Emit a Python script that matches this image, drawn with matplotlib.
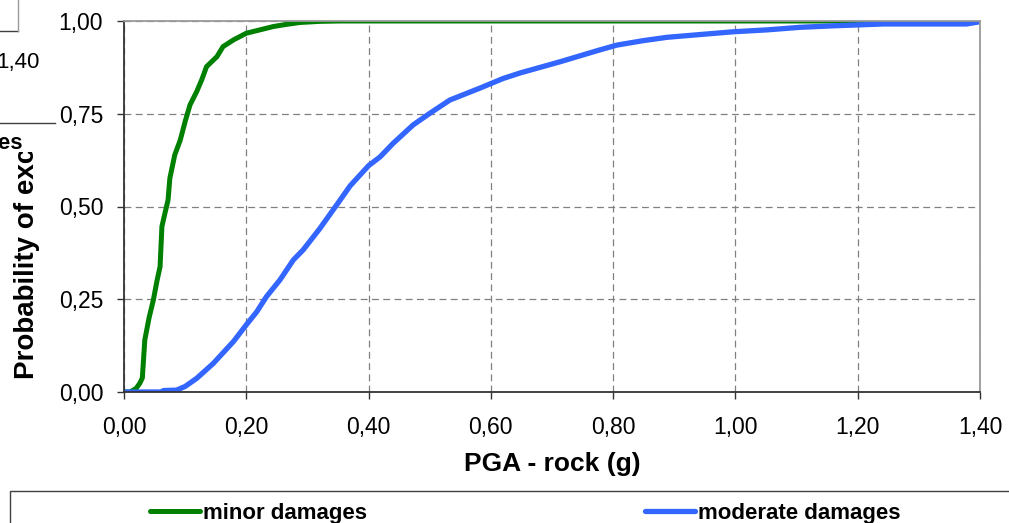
import matplotlib.pyplot as plt
import matplotlib as mpl
from matplotlib.patches import Rectangle
from matplotlib.lines import Line2D
from matplotlib.ticker import FuncFormatter

mpl.rcParams.update({
    "font.family": "sans-serif",
    "font.sans-serif": ["Liberation Sans", "DejaVu Sans"],
})

# fragility curves: probability of exceedance vs PGA on rock
minor_pga = [0.0, 0.010, 0.020, 0.026, 0.030, 0.034, 0.041, 0.048, 0.054, 0.059,
             0.062, 0.067, 0.072, 0.075, 0.083, 0.092, 0.100, 0.108, 0.119, 0.127,
             0.135, 0.152, 0.162, 0.179, 0.200, 0.222, 0.244, 0.266, 0.288, 0.320,
             0.353, 1.40]
minor_prob = [0.0, 0.000, 0.010, 0.024, 0.038, 0.140, 0.200, 0.248, 0.300, 0.338,
              0.446, 0.482, 0.517, 0.576, 0.639, 0.679, 0.729, 0.774, 0.810, 0.841,
              0.877, 0.904, 0.931, 0.949, 0.967, 0.976, 0.985, 0.991, 0.996, 0.999,
              1.0, 1.0]

moderate_pga = [0.0, 0.060, 0.065, 0.086, 0.100, 0.119, 0.146, 0.179, 0.200, 0.217,
                0.233, 0.255, 0.277, 0.293, 0.320, 0.346, 0.370, 0.400, 0.419, 0.440,
                0.473, 0.500, 0.533, 0.582, 0.620, 0.648, 0.713, 0.778, 0.806, 0.849,
                0.888, 0.953, 0.997, 1.051, 1.106, 1.160, 1.242, 1.378, 1.400]
moderate_prob = [0.0, 0.000, 0.004, 0.005, 0.015, 0.037, 0.077, 0.136, 0.181, 0.216,
                 0.257, 0.302, 0.356, 0.383, 0.440, 0.500, 0.556, 0.610, 0.634, 0.670,
                 0.720, 0.751, 0.787, 0.819, 0.845, 0.860, 0.890, 0.922, 0.935, 0.947,
                 0.956, 0.965, 0.971, 0.976, 0.983, 0.987, 0.992, 0.992, 0.998]

W, H = 1009, 523


def fx(px):
    return px / W


def fy(py):
    return 1 - py / H


comma = FuncFormatter(lambda v, pos: f"{v:.2f}".replace(".", ","))

fig = plt.figure(figsize=(W / 100, H / 100), dpi=100)
ax = fig.add_axes([fx(124), fy(392), fx(980) - fx(124), fy(21) - fy(392)])

l1, = ax.plot(minor_pga, minor_prob, color="#008000", lw=3.6,
              solid_capstyle="round", label="minor damages")
l2, = ax.plot(moderate_pga, moderate_prob, color="#3366FF", lw=3.8,
              solid_capstyle="round", label="moderate damages")

ax.set_xlim(0, 1.4)
ax.set_ylim(0, 1.0)
ax.set_xticks([0.0, 0.2, 0.4, 0.6, 0.8, 1.0, 1.2, 1.4])
ax.set_yticks([0.0, 0.25, 0.5, 0.75, 1.0])
ax.xaxis.set_major_formatter(comma)
ax.yaxis.set_major_formatter(comma)
ax.tick_params(labelsize=16.5, length=5, width=1, color="#333333")
ax.tick_params(axis="y", pad=10)
ax.tick_params(axis="x", pad=12)
ax.grid(True, color="#808080", lw=0.9, ls=(0, (5.5, 3.5)))
ax.set_axisbelow(True)

for side in ("left", "bottom"):
    ax.spines[side].set_color("#333333")
    ax.spines[side].set_linewidth(1.3)
for side in ("top", "right"):
    ax.spines[side].set_color("#999999")
    ax.spines[side].set_linewidth(1.3)

ax.set_xlabel("PGA - rock (g)", fontsize=19, fontweight="bold", labelpad=10)
ax.set_ylabel("Probability of exceedance", fontsize=20, fontweight="bold",
              ha="left")
ax.yaxis.set_label_coords(-0.098, 0.036)

# legend box along the bottom
fig.add_artist(Rectangle((fx(10), fy(600)), fx(1100), fy(491) - fy(600),
                         transform=fig.transFigure, fill=False,
                         edgecolor="#404040", lw=1.0, zorder=3))
fig.legend(handles=[l1, l2], loc="center left",
           bbox_to_anchor=(fx(150), fy(513)), ncol=2, frameon=False,
           prop={"size": 16, "weight": "bold"}, handlelength=2.25,
           handletextpad=0.15, columnspacing=12.5, borderpad=0,
           borderaxespad=0)

# neighbouring chart overlapping the top-left corner
fig.add_artist(Rectangle((0, fy(152)), fx(56), 1 - fy(152),
                         transform=fig.transFigure, facecolor="white",
                         edgecolor="none", zorder=5))
fig.add_artist(Line2D([0, fx(17.5)], [fy(30.5), fy(30.5)],
                      transform=fig.transFigure, color="#404040", lw=1.0,
                      zorder=6))
fig.add_artist(Line2D([fx(17.5), fx(17.5)], [fy(30.5), 1],
                      transform=fig.transFigure, color="#999999", lw=1.0,
                      zorder=6))
fig.add_artist(Line2D([0, fx(55)], [fy(123), fy(123)],
                      transform=fig.transFigure, color="#404040", lw=1.0,
                      zorder=6))
fig.text(fx(40), fy(62), "1,40", fontsize=16, ha="right", va="center",
         zorder=6)
fig.text(fx(23), fy(143), "moderate damages", fontsize=16,
         fontweight="bold", ha="right", va="center", zorder=6)

fig.savefig("out.png", dpi=100)
